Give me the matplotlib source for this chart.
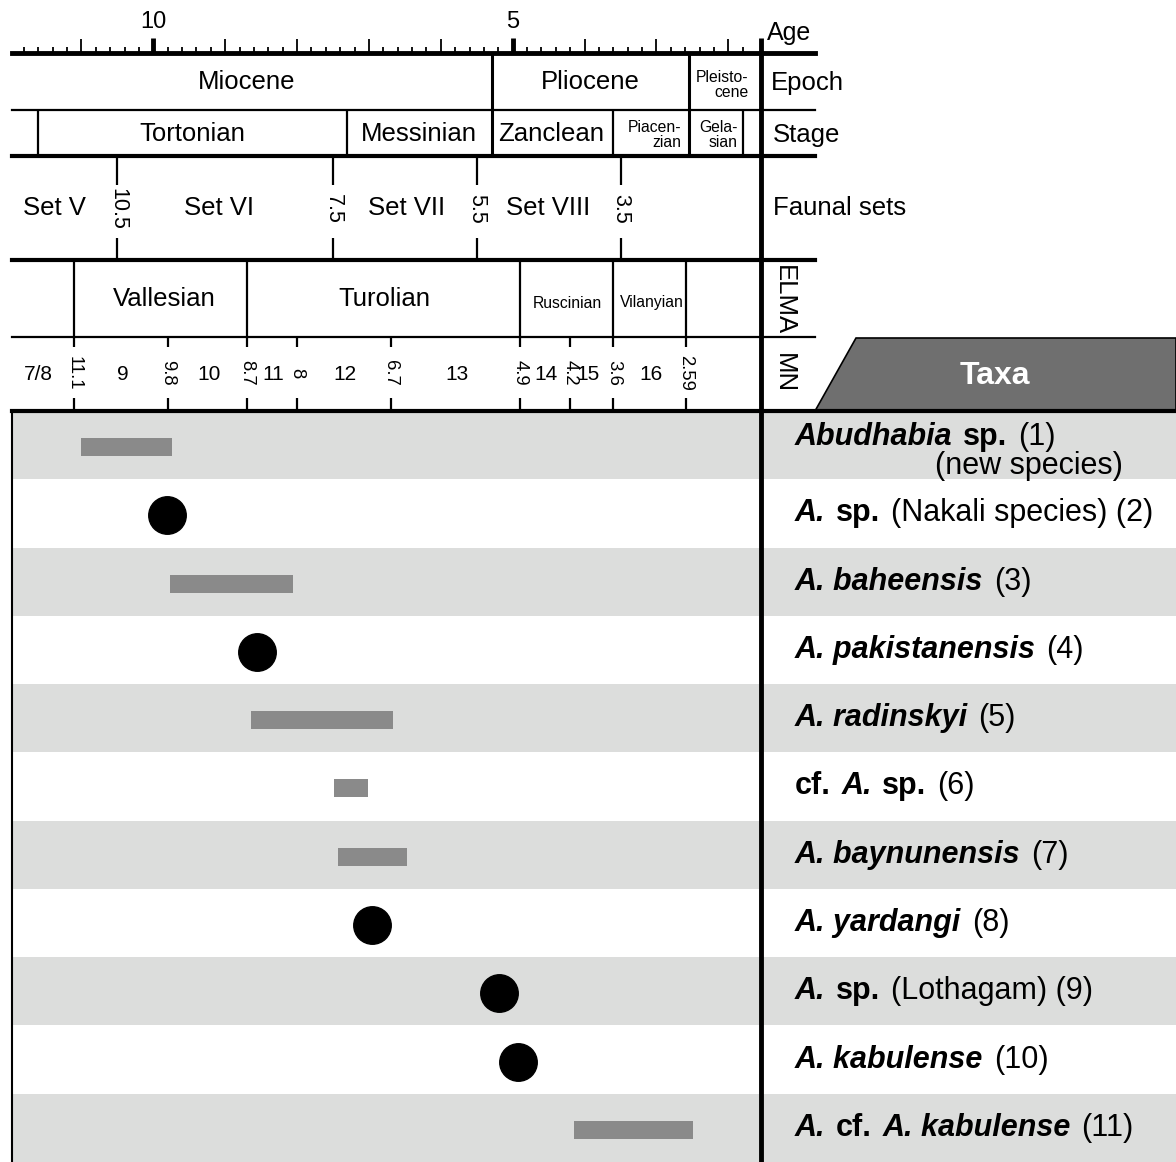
import numpy as np
import matplotlib.pyplot as plt
from matplotlib.patches import Polygon
from matplotlib.transforms import blended_transform_factory

plt.rcParams['font.family'] = ['Liberation Sans', 'DejaVu Sans']

W, H = 1176, 1162

# --- time scale (ages in Ma) ---
epoch_names = ['Miocene', 'Pliocene']
epoch_label_age = [8.70, 3.92]
epoch_bounds = [5.29, 2.55]

stage_names = ['Tortonian', 'Messinian', 'Zanclean']
stage_label_age = [9.46, 6.30, 4.47]
stage_bounds = [11.61, 7.30, 3.60, 1.80]
small_stage_names = ['Piacen-\nzian', 'Gela-\nsian']
small_stage_right_age = [2.66, 1.87]

fauna_names = ['Set V', 'Set VI', 'Set VII', 'Set VIII']
fauna_label_age = [11.37, 9.09, 6.47, 4.51]
fauna_bounds = [10.5, 7.5, 5.5, 3.5]
fauna_bound_labels = ['10.5', '7.5', '5.5', '3.5']

elma_names = ['Vallesian', 'Turolian', 'Ruscinian', 'Vilanyian']
elma_label_age = [9.85, 6.78, 4.24, 3.07]
elma_small = [False, False, True, True]
elma_bounds = [11.1, 8.7, 4.9, 3.6, 2.59]

mn_zones = ['7/8', '9', '10', '11', '12', '13', '14', '15', '16']
mn_label_age = [11.60, 10.42, 9.22, 8.33, 7.33, 5.78, 4.54, 3.95, 3.07]
mn_bounds = [11.1, 9.8, 8.7, 8.0, 6.7, 4.9, 4.2, 3.6, 2.59]
mn_bound_labels = ['11.1', '9.8', '8.7', '8', '6.7', '4.9', '4.2', '3.6', '2.59']

# --- taxa: label parts (text, style) and age ranges ---
taxa = [
    [('Abudhabia', 'bi'), ('sp.', 'b'), ('(1)', 'r')],
    [('A.', 'bi'), ('sp.', 'b'), ('(Nakali species) (2)', 'r')],
    [('A. baheensis', 'bi'), ('(3)', 'r')],
    [('A. pakistanensis', 'bi'), ('(4)', 'r')],
    [('A. radinskyi', 'bi'), ('(5)', 'r')],
    [('cf.', 'b'), ('A.', 'bi'), ('sp.', 'b'), ('(6)', 'r')],
    [('A. baynunensis', 'bi'), ('(7)', 'r')],
    [('A. yardangi', 'bi'), ('(8)', 'r')],
    [('A.', 'bi'), ('sp.', 'b'), ('(Lothagam) (9)', 'r')],
    [('A. kabulense', 'bi'), ('(10)', 'r')],
    [('A.', 'bi'), ('cf.', 'b'), ('A. kabulense', 'bi'), ('(11)', 'r')],
]
first_occ = np.array([11.0, 9.81, 9.77, 8.56, 8.64, 7.49, 7.43, 6.96, 5.19, 4.92, 4.15])
last_occ = np.array([9.74, 9.81, 8.05, 8.56, 6.67, 7.02, 6.47, 6.96, 5.19, 4.92, 2.49])

# --- layout ---
X5, PX_MA = 512.7, 71.87          # pixel of 5 Ma, pixels per Ma
AGE_LEFT, AGE_RIGHT = 11.97, 1.55
Y_AGE, Y_EPOCH, Y_STAGE, Y_FAUNA, Y_ELMA, Y_MN = 53, 110, 156, 260, 337, 411
ROW_H = (H - Y_MN) / len(taxa)
THICK, THIN = 3.0, 1.6
BAND = '#dcdddc'
BAR = '#8a8a8a'
BIG, MID, SMALL = 18.5, 15.5, 11.3
TAXA_FS = 22

fig = plt.figure(figsize=(W / 100, H / 100), dpi=100)
ax = fig.add_axes([0, 0, 1, 1])
ax.set_xlim(5 + X5 / PX_MA, 5 - (W - X5) / PX_MA)
ax.set_ylim(H, 0)
ax.axis('off')
tr = blended_transform_factory(ax.transAxes, ax.transData)


def fx(px):
    return px / W


# row shading
row_top = Y_MN + ROW_H * np.arange(len(taxa))
yc = row_top + ROW_H / 2 + 2
for i, top in enumerate(row_top):
    if i % 2 == 0:
        ax.axhspan(top, top + ROW_H, xmin=fx(12), xmax=1, color=BAND, lw=0, zorder=0)

# ranges and single occurrences
is_dot = first_occ == last_occ
ax.barh(yc[~is_dot], (first_occ - last_occ)[~is_dot], left=last_occ[~is_dot],
        height=18, color=BAR, zorder=2)
ax.plot(first_occ[is_dot], yc[is_dot], 'o', ms=27, color='k', zorder=3)

# horizontal rules of the time scale
for y, lw in [(Y_AGE, 3.5), (Y_EPOCH, THIN), (Y_STAGE, THICK), (Y_FAUNA, THICK), (Y_ELMA, THIN)]:
    ax.axhline(y, xmin=fx(12), xmax=fx(815), color='k', lw=lw, zorder=4)
ax.axhline(Y_MN, xmin=fx(12), xmax=1, color='k', lw=THICK, zorder=4)
ax.vlines(AGE_RIGHT, 38, H, color='k', lw=3.5, zorder=5)
ax.vlines(AGE_LEFT, Y_MN, H, color='k', lw=1.5, zorder=4)

# age ticks
ticks = np.round(np.arange(1.8, 11.81, 0.2), 1)
minor = ticks[ticks % 1 != 0]
whole = ticks[(ticks % 1 == 0) & (ticks % 5 != 0)]
ax.vlines(minor, 47, Y_AGE, color='k', lw=1.3)
ax.vlines(whole, 39, Y_AGE, color='k', lw=1.3)
ax.vlines([10, 5], 38, Y_AGE, color='k', lw=3.5)
for a in [10, 5]:
    ax.text(a, 22, str(a), ha='center', va='center', fontsize=17)

# epochs and stages
ax.vlines(epoch_bounds, Y_AGE, Y_STAGE, color='k', lw=2.2)
ax.vlines(stage_bounds, Y_EPOCH, Y_STAGE, color='k', lw=THIN)
for name, a in zip(epoch_names, epoch_label_age):
    ax.text(a, 82, name, ha='center', va='center', fontsize=BIG)
ax.text(1.72, 85, 'Pleisto-\ncene', ha='right', va='center', fontsize=SMALL,
        multialignment='right', linespacing=0.95)
for name, a in zip(stage_names, stage_label_age):
    ax.text(a, 134, name, ha='center', va='center', fontsize=BIG)
for name, a in zip(small_stage_names, small_stage_right_age):
    ax.text(a, 135, name, ha='right', va='center', fontsize=SMALL,
            multialignment='right', linespacing=0.95)

# faunal sets
ax.vlines(fauna_bounds, Y_STAGE, 185, color='k', lw=THIN)
ax.vlines(fauna_bounds, 238, Y_FAUNA, color='k', lw=THIN)
for a, lab in zip(fauna_bounds, fauna_bound_labels):
    ax.text(a, 209, lab, rotation=-90, ha='center', va='center', fontsize=MID)
for name, a in zip(fauna_names, fauna_label_age):
    ax.text(a, 208, name, ha='center', va='center', fontsize=BIG)

# ELMA
ax.vlines(elma_bounds, Y_FAUNA, Y_ELMA, color='k', lw=THIN)
for name, a, small in zip(elma_names, elma_label_age, elma_small):
    ax.text(a, 303 if small else 299, name, ha='center', va='center',
            fontsize=SMALL if small else BIG)

# MN zones
ax.vlines(mn_bounds, Y_ELMA, 347, color='k', lw=THIN)
ax.vlines(mn_bounds, 398, Y_MN, color='k', lw=THIN)
for a, lab in zip(mn_bounds, mn_bound_labels):
    ax.text(a, 373, lab, rotation=-90, ha='center', va='center', fontsize=13.3)
for name, a in zip(mn_zones, mn_label_age):
    ax.text(a, 374, name, ha='center', va='center', fontsize=15)

# row titles
ax.text(fx(767), 33, 'Age', transform=tr, ha='left', va='center', fontsize=18)
ax.text(fx(771), 83, 'Epoch', transform=tr, ha='left', va='center', fontsize=BIG)
ax.text(fx(773), 135, 'Stage', transform=tr, ha='left', va='center', fontsize=BIG)
ax.text(fx(773), 208, 'Faunal sets', transform=tr, ha='left', va='center', fontsize=BIG)
ax.text(fx(784), 300, 'ELMA', transform=tr, rotation=-90, ha='center', va='center', fontsize=BIG)
ax.text(fx(784), 373, 'MN', transform=tr, rotation=-90, ha='center', va='center', fontsize=BIG)

# taxa header
ax.add_patch(Polygon([(fx(856), Y_ELMA + 1), (1, Y_ELMA + 1), (1, Y_MN), (fx(815), Y_MN)],
                     closed=True, transform=tr, fc='#6f6f6f', ec='k', lw=1.2, zorder=3))
ax.text(fx(995), 376, 'Taxa', transform=tr, ha='center', va='center', fontsize=23,
        fontweight='bold', color='white', zorder=4)


def rich_label(x, y, parts, size=TAXA_FS, gap=7.5):
    prev = None
    for s, style in parts:
        kw = dict(fontsize=size,
                  fontweight='bold' if 'b' in style else 'normal',
                  fontstyle='italic' if 'i' in style else 'normal', zorder=4)
        if prev is None:
            prev = ax.text(x, y, s, transform=tr, ha='left', va='center', **kw)
        else:
            prev = ax.annotate(s, xy=(1, 0), xycoords=prev, xytext=(gap, 0),
                               textcoords='offset points', ha='left', va='bottom', **kw)
    return prev


for i, parts in enumerate(taxa):
    y = yc[i] - 2
    if i == 0:
        y = 437
    rich_label(fx(795), y, parts)
ax.text(fx(1123), 466, '(new species)', transform=tr, ha='right', va='center', fontsize=TAXA_FS)

fig.savefig('out.png', dpi=100)
